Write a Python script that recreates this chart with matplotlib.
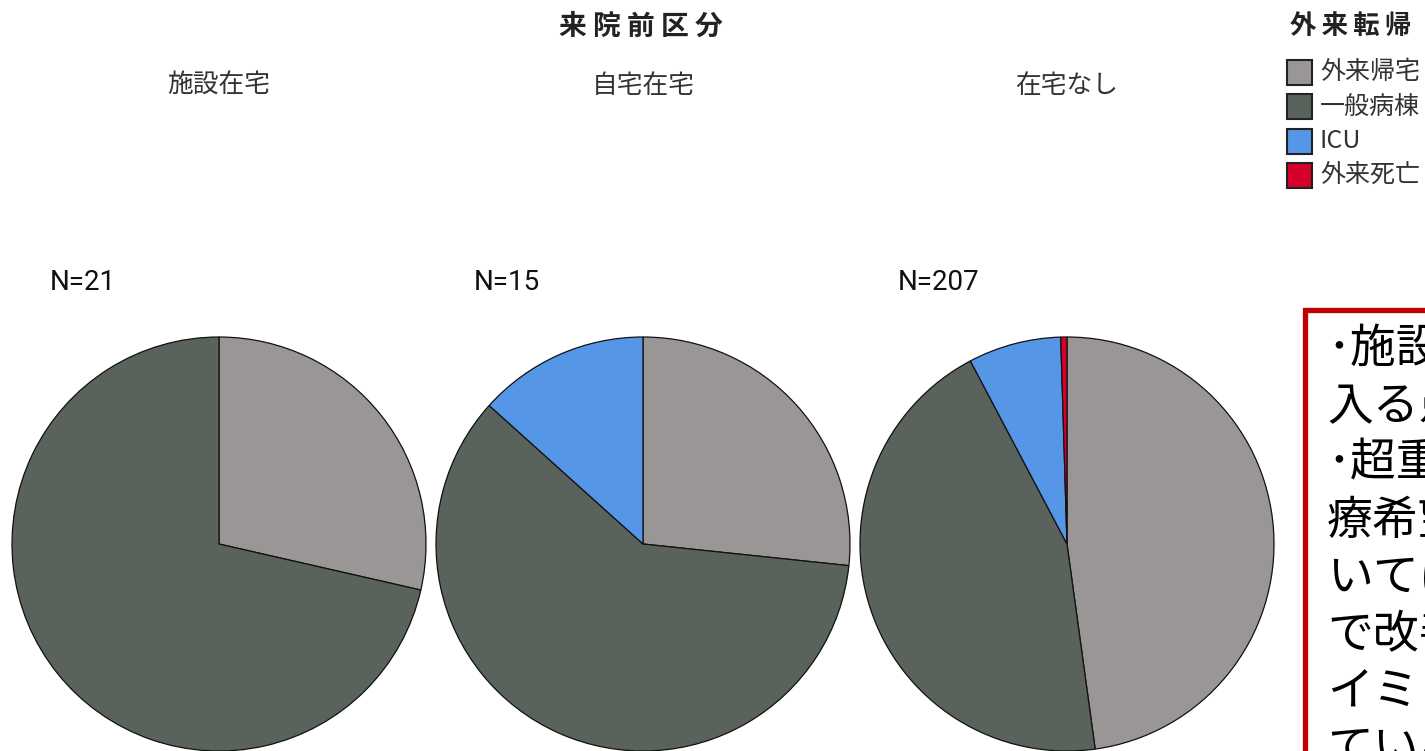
import matplotlib.pyplot as plt
from matplotlib.patches import Rectangle

plt.rcParams['font.family'] = ['Noto Sans CJK JP', 'DejaVu Sans']

# outcome categories and colours
outcomes = ['外来帰宅', '一般病棟', 'ICU', '外来死亡']
outcome_colors = ['#9a9696', '#5a625c', '#5596e6', '#d6002a']

# counts per pre-visit group
groups = ['施設在宅', '自宅在宅', '在宅なし']
counts = [
    [6, 15, 0, 0],
    [4, 9, 2, 0],
    [99, 92, 15, 1],
]

note_lines = [
    '･施設在宅は一般病棟に',
    '入る患者が多い',
    '･超重症例を除き、治',
    '療希望の高齢者につ',
    'いては入院加療',
    'で改善が見込めるタ',
    'イミングで搬送され',
    'ている',
]

W, H = 1425, 751
fig = plt.figure(figsize=(W / 100, H / 100), dpi=100)
ax = fig.add_axes([0, 0, 1, 1])

centers_x = [219, 643, 1067]
radius = 207
for cx, grp, vals in zip(centers_x, groups, counts):
    keep = [i for i, v in enumerate(vals) if v > 0]
    ax.pie([vals[i] for i in keep], colors=[outcome_colors[i] for i in keep],
           startangle=90, counterclock=False, center=(cx, radius), radius=radius,
           wedgeprops=dict(edgecolor='#111111', linewidth=0.9))
    ax.text(cx, H - 86, grp, ha='center', va='center', fontsize=18.5, color='#333333')
    ax.text(cx - radius + 38, H - 282, f'N={sum(vals)}', ha='left', va='center',
            fontsize=20, family=['Roboto', 'DejaVu Sans'], color='#111111')

ax.set_xlim(0, W)
ax.set_ylim(0, H)
ax.set_aspect('equal')
ax.axis('off')

# spaced-out headings
ax.text(641, H - 27, ' '.join('来院前区分'), ha='center', va='center', fontsize=20,
        fontweight='bold', color='#222222')

# legend
ax.text(1290, H - 27, '\u2009'.join('外来転帰'), ha='left', va='center', fontsize=19,
        fontweight='bold', color='#222222', clip_on=False)
for k, (lab, col) in enumerate(zip(outcomes, outcome_colors)):
    yc = H - (72 + 34.5 * k)
    ax.add_patch(Rectangle((1287, yc - 12.5), 25, 25, facecolor=col,
                           edgecolor='#222222', linewidth=1.5, clip_on=False))
    ax.text(1320, yc, lab, ha='left', va='center', fontsize=18,
            color='#333333', clip_on=False)

# note box
ax.add_patch(Rectangle((1305, -50), 300, H - 310 + 50, facecolor='white',
                       edgecolor='#c00000', linewidth=3.8, clip_on=False))
for i, line in enumerate(note_lines):
    ax.text(1327, H - (350 + 57 * i), line, ha='left', va='center',
            fontsize=33, color='black', clip_on=False)

fig.savefig('out.png', dpi=100)
